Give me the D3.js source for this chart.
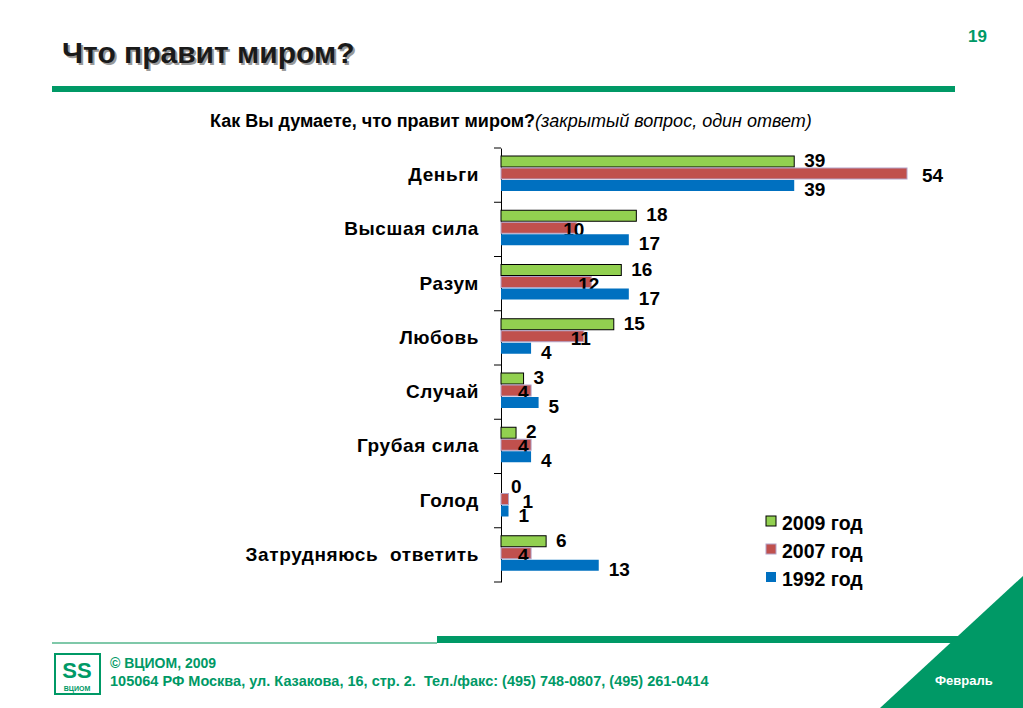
<!DOCTYPE html>
<html><head><meta charset="utf-8">
<script src="https://cdn.jsdelivr.net/npm/d3@7"></script>
<style>body{margin:0;background:#fff}svg{font-family:Arial,"Liberation Sans",sans-serif}</style>
</head><body>
<svg id="c" width="1023" height="708"></svg>
<script>
const categories=["Деньги","Высшая сила","Разум","Любовь","Случай","Грубая сила","Голод","Затрудняюсь  ответить"];
const v2009=[39,18,16,15,3,2,0,6];
const v2007=[54,10,12,11,4,4,1,4];
const v1992=[39,17,17,4,5,4,1,13];
const seriesNames=["2009 год","2007 год","1992 год"];
const colors=["#92d050","#c0504d","#0070c0"];
const strokes=["#000","#b3a2c7","none"];
const series=[v2009,v2007,v1992];

const svg=d3.select("#c");
const green="#009966";
svg.append("text").attr("x",64).attr("y",65).attr("font-size",30).attr("font-weight","bold").attr("fill","#999").text("Что правит миром?");
svg.append("text").attr("x",62).attr("y",63).attr("font-size",30).attr("font-weight","bold").attr("fill","#1a1a1a").text("Что правит миром?");
svg.append("text").attr("x",968).attr("y",42).attr("font-size",17).attr("font-weight","bold").attr("fill",green).text("19");
svg.append("rect").attr("x",52).attr("y",86).attr("width",903).attr("height",6).attr("fill",green);
const st=svg.append("text").attr("x",210).attr("y",127).attr("font-size",18).attr("fill","#000");
st.append("tspan").attr("font-weight","bold").text("Как Вы думаете, что правит миром?");
st.append("tspan").attr("font-style","italic").text("(закрытый вопрос, один ответ)");

const x=d3.scaleLinear().domain([0,54]).range([501,907]);
const y=d3.scaleBand().domain(categories).range([148,582]);
const inner=d3.scaleBand().domain([0,1,2]).range([8,44]);
const ax=svg.append("g").attr("transform","translate(501,0)").call(d3.axisLeft(y).tickSize(0).tickFormat(""));
ax.select(".domain").attr("stroke","#000");
const ticks=d3.range(categories.length+1).map(i=>148+i*y.step());
svg.selectAll("line.t").data(ticks).enter().append("line").attr("x1",494).attr("x2",501).attr("y1",d=>d).attr("y2",d=>d).attr("stroke","#000");
svg.selectAll("text.cat").data(categories).enter().append("text")
 .attr("x",479).attr("y",d=>y(d)+y.bandwidth()/2+6).attr("text-anchor","end").attr("font-size",19).attr("font-weight","bold").attr("letter-spacing",0.6).attr("xml:space","preserve").text(d=>d);
const dy=[-1,2,4];
series.forEach((s,si)=>{
  const g=svg.append("g");
  g.selectAll("rect").data(s).enter().append("rect")
   .attr("x",x(0)).attr("y",(d,i)=>y(categories[i])+inner(si)).attr("width",d=>x(d)-x(0)).attr("height",inner.bandwidth()-1)
   .attr("fill",colors[si]).attr("stroke",strokes[si]).attr("stroke-width",1);
  g.selectAll("text").data(s).enter().append("text")
   .attr("x",d=>x(d)+(si==1?(d>=20?15:(d<=1?14:-13)):10)).attr("y",(d,i)=>y(categories[i])+inner(si)+inner.bandwidth()/2+6+dy[si])
   .attr("font-size",19).attr("font-weight","bold").text(d=>d);
});
seriesNames.forEach((n,i)=>{
  svg.append("rect").attr("x",766).attr("y",516+i*28).attr("width",10).attr("height",10).attr("fill",colors[i]).attr("stroke",strokes[i]);
  svg.append("text").attr("x",782).attr("y",530+i*28).attr("font-size",19.5).attr("font-weight","bold").text(n);
});
svg.append("rect").attr("x",52).attr("y",642).attr("width",385).attr("height",2).attr("fill","#7fc8a9");
svg.append("rect").attr("x",437).attr("y",636).attr("width",540).attr("height",7).attr("fill",green);
svg.append("polygon").attr("points","1023,576 1023,708 880,708").attr("fill",green);
svg.append("text").attr("x",935).attr("y",685).attr("font-size",13).attr("font-weight","bold").attr("fill","#fff").text("Февраль");
svg.append("rect").attr("x",55).attr("y",654).attr("width",45).attr("height",40).attr("fill","#fff").attr("stroke",green).attr("stroke-width",2);
svg.append("text").attr("x",77).attr("y",678).attr("text-anchor","middle").attr("font-size",22).attr("font-weight","bold").attr("fill",green).text("SS");
svg.append("text").attr("x",77).attr("y",691).attr("text-anchor","middle").attr("font-size",7).attr("font-weight","bold").attr("fill",green).text("ВЦИОМ");
svg.append("text").attr("x",110).attr("y",668).attr("font-size",14).attr("font-weight","bold").attr("fill",green).text("© ВЦИОМ, 2009");
svg.append("text").attr("x",110).attr("y",686).attr("font-size",14.5).attr("font-weight","bold").attr("fill",green).attr("xml:space","preserve").text("105064 РФ Москва, ул. Казакова, 16, стр. 2.  Тел./факс: (495) 748-0807, (495) 261-0414");
</script>
</body></html>
